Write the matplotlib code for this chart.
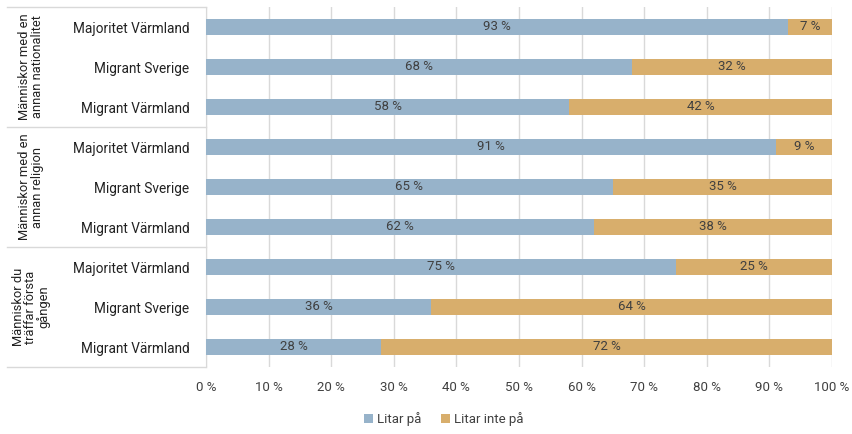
import matplotlib.pyplot as plt
import numpy as np

plt.rcParams["font.family"] = ["Roboto", "DejaVu Sans"]

categories = ["Majoritet Värmland", "Migrant Sverige", "Migrant Värmland"] * 3
groups = ["Människor med en\nannan nationalitet",
          "Människor med en\nannan religion",
          "Människor du\nträffar första\ngången"]
litar_pa = [93, 68, 58, 91, 65, 62, 75, 36, 28]
litar_inte = [7, 32, 42, 9, 35, 38, 25, 64, 72]
xticks = [0, 10, 20, 30, 40, 50, 60, 70, 80, 90, 100]

blue = "#97B3CA"
orange = "#D8AE6C"
textc = "#404040"
linec = "#D9D9D9"

fig = plt.figure(figsize=(8.53, 4.34), dpi=100)
ax = fig.add_axes([206 / 853, 1 - 367 / 434, 626 / 853, 360 / 434])

y = np.arange(len(categories))
ax.barh(y, litar_pa, height=0.4, color=blue, label="Litar på", zorder=3)
ax.barh(y, litar_inte, left=litar_pa, height=0.4, color=orange, label="Litar inte på", zorder=3)

for i in range(len(y)):
    ax.text(litar_pa[i] / 2, y[i], f"{litar_pa[i]} %", ha="center", va="center",
            fontsize=9.5, color=textc, zorder=4)
    ax.text(litar_pa[i] + litar_inte[i] / 2, y[i], f"{litar_inte[i]} %", ha="center",
            va="center", fontsize=9.5, color=textc, zorder=4)

ax.set_xlim(0, 100)
ax.set_ylim(len(y) - 0.5, -0.5)
ax.set_xticks(xticks)
ax.set_xticklabels([f"{t} %" for t in xticks], fontsize=9.5, color=textc)
ax.set_yticks(y)
ax.set_yticklabels(categories, fontsize=9.8, color="#222222")
ax.tick_params(axis="both", length=0)
ax.tick_params(axis="x", pad=10)
ax.tick_params(axis="y", pad=12)
ax.grid(axis="x", color=linec, linewidth=1, zorder=0)
for s in ["top", "right", "bottom"]:
    ax.spines[s].set_visible(False)
ax.spines["left"].set_color(linec)

# group separators and labels to the left of the axis
x0 = -199 / 626
for b in [-0.5, 2.5, 5.5, 8.5]:
    ax.plot([x0, 0], [b, b], transform=ax.get_yaxis_transform(), color=linec,
            linewidth=1, clip_on=False)
for k, g in enumerate(groups):
    ax.text(-175 / 626, 3 * k + 1, g, rotation=90, ha="center", va="center",
            fontsize=9.3, color="#222222", transform=ax.get_yaxis_transform(),
            linespacing=0.95)

fig.legend(loc="lower center", bbox_to_anchor=(0.52, -0.01), ncol=2, frameon=False,
           fontsize=9.5, handlelength=0.7, handleheight=0.7, handletextpad=0.3,
           columnspacing=1.5, labelcolor=textc)

fig.savefig("out.png", dpi=100)
